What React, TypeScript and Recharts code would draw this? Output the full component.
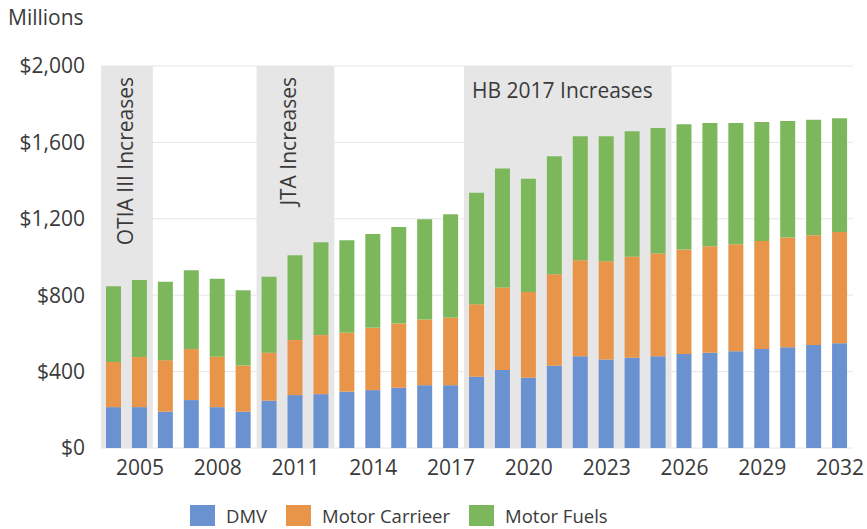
import React from 'react';
import { BarChart, Bar, XAxis, YAxis, CartesianGrid, ReferenceArea } from 'recharts';

const years = ['2004','2005','2006','2007','2008','2009','2010','2011','2012','2013','2014','2015','2016','2017','2018','2019','2020','2021','2022','2023','2024','2025','2026','2027','2028','2029','2030','2031','2032'];
const dmv = [214,214,190,251,214,190,248,277,282,295,303,316,329,329,373,408,368,431,481,464,472,481,492,499,507,518,527,539,548];
const motorCarrier = [236,262,270,267,264,242,251,288,309,308,326,336,344,353,380,432,449,479,502,514,529,537,547,557,560,566,575,575,583];
const motorFuels = [397,403,410,413,408,394,397,444,486,485,492,505,525,542,583,623,593,617,649,654,657,657,656,646,635,623,610,605,596];
const yTicks = [0,400,800,1200,1600,2000];

const seriesNames = ['DMV','Motor Carrieer','Motor Fuels'];
const seriesKeys = ['dmv','carrier','fuels'];
const seriesColors = ['#6b92d0','#e8954a','#7cb85b'];

const data = years.map((y, i) => ({ year: y, dmv: dmv[i], carrier: motorCarrier[i], fuels: motorFuels[i] }));

const FONT = '"Open Sans", sans-serif';
const TEXT = '#3a3a3a';

const vLabel = (text: string, dx: number) => (props: any) => {
  const vb = props.viewBox || {};
  const x = vb.x + dx;
  const y = vb.y + 11;
  return (
    <text transform={`translate(${x},${y}) rotate(-90)`} textAnchor="end" fill={TEXT} fontSize={21} fontFamily={FONT}>
      {text}
    </text>
  );
};

const hLabel = (text: string) => (props: any) => {
  const vb = props.viewBox || {};
  return (
    <text x={vb.x + 8} y={vb.y + 32} fill={TEXT} fontSize={21} fontFamily={FONT}>
      {text}
    </text>
  );
};

export default function App() {
  return (
    <div style={{ position: 'absolute', left: 0, top: 0, width: 867, height: 529, background: '#fff', fontFamily: FONT }}>
      <div style={{ position: 'absolute', left: 8, top: 3, fontSize: 21, color: TEXT }}>Millions</div>
      <BarChart width={867} height={529} data={data} margin={{ top: 66, right: 14, left: 0, bottom: 0 }}>
        <CartesianGrid vertical={false} stroke="#e6e6e6" />
        <ReferenceArea x1="2004" x2="2005" y1={0} y2={2000} fill="#e6e6e6" fillOpacity={1} stroke="none" label={vLabel('OTIA III Increases', 32)} />
        <ReferenceArea x1="2010" x2="2012" y1={0} y2={2000} fill="#e6e6e6" fillOpacity={1} stroke="none" label={vLabel('JTA Increases', 39)} />
        <ReferenceArea x1="2018" x2="2025" y1={0} y2={2000} fill="#e6e6e6" fillOpacity={1} stroke="none" label={hLabel('HB 2017 Increases')} />
        <XAxis
          dataKey="year"
          height={81}
          axisLine={false}
          tickLine={false}
          tickSize={0}
          tickMargin={12}
          interval={0}
          tick={{ fill: TEXT, fontSize: 21, fontFamily: FONT }}
          tickFormatter={(v: string) => (Number(v) % 3 === 1 ? v : '')}
        />
        <YAxis
          width={101}
          domain={[0, 2000]}
          ticks={yTicks}
          axisLine={false}
          tickLine={false}
          tickSize={0}
          tickMargin={16}
          tick={{ fill: TEXT, fontSize: 21, fontFamily: FONT }}
          tickFormatter={(v: number) => `$${v.toLocaleString('en-US')}`}
        />
        {seriesKeys.map((k, i) => (
          <Bar key={k} dataKey={k} name={seriesNames[i]} stackId="a" fill={seriesColors[i]} barSize={15} isAnimationActive={false} />
        ))}
      </BarChart>
      <div style={{ position: 'absolute', left: 190, top: 503, display: 'flex', alignItems: 'center', fontSize: 18.5, color: TEXT }}>
        {seriesNames.map((n, i) => (
          <div key={n} style={{ display: 'flex', alignItems: 'center', marginRight: 19 }}>
            <div style={{ width: 25, height: 21, background: seriesColors[i], marginRight: 11 }} />
            <span>{n}</span>
          </div>
        ))}
      </div>
    </div>
  );
}
